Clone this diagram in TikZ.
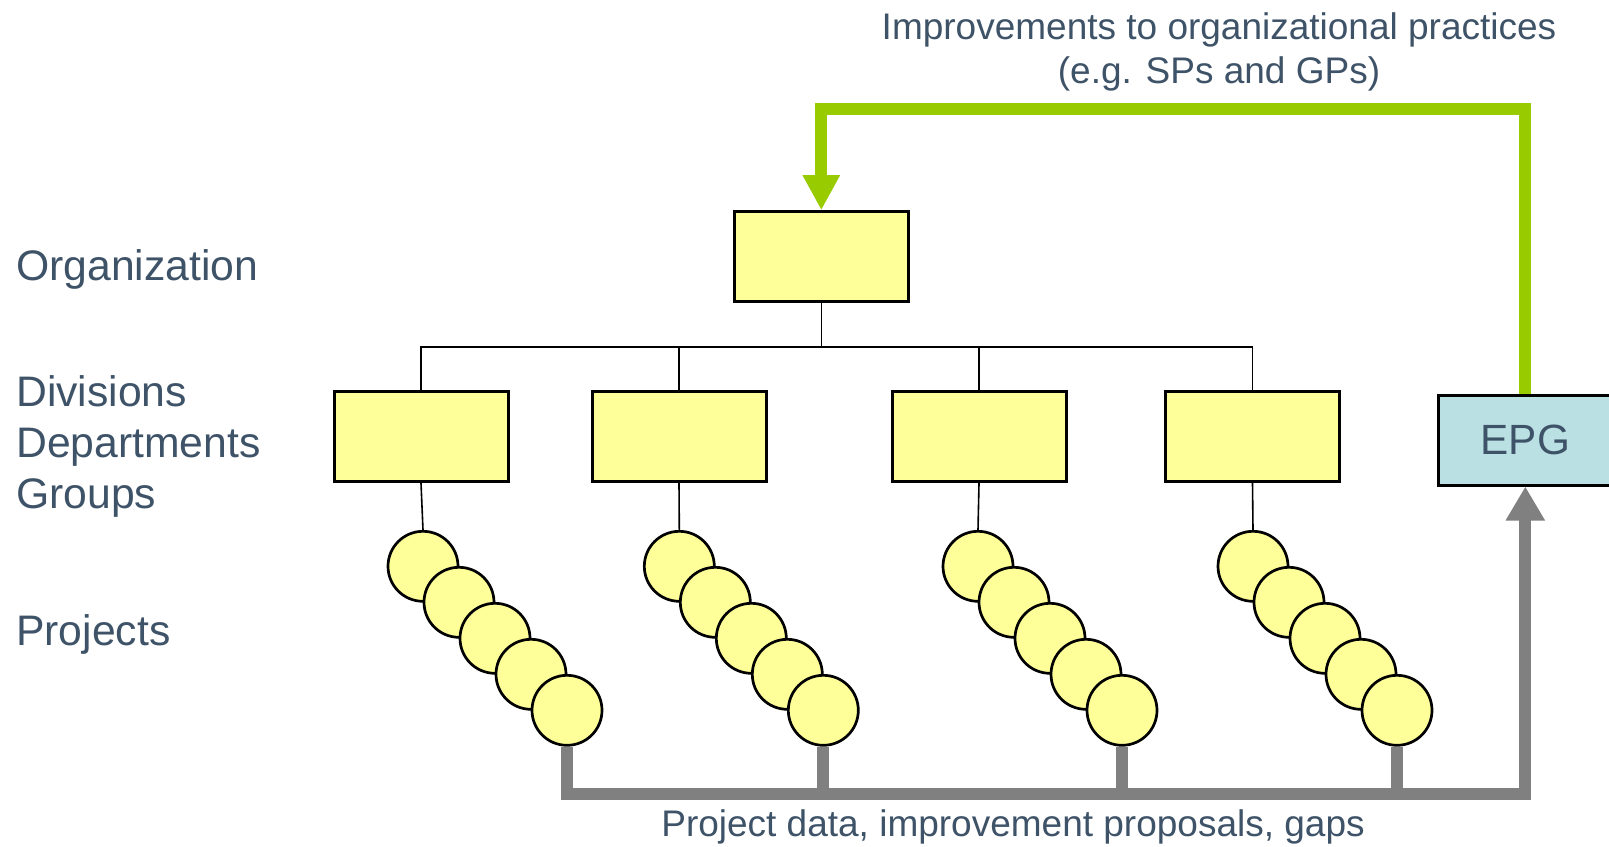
\documentclass[tikz,border=0pt]{standalone}
\usepackage{fontspec}
\setmainfont{Liberation Sans}
\usetikzlibrary{arrows.meta}
\definecolor{txt}{RGB}{62,83,104}
\definecolor{boxyellow}{RGB}{255,255,153}
\definecolor{epgblue}{RGB}{186,224,227}
\definecolor{flowgreen}{RGB}{153,204,0}
\definecolor{flowgray}{RGB}{128,128,128}

\begin{document}
\begin{tikzpicture}[x=1pt,y=-1pt,
  unitbox/.style={draw=black, line width=3pt, fill=boxyellow,
    minimum width=174pt, minimum height=90pt, inner sep=0pt},
  epgbox/.style={unitbox, fill=epgblue, text=txt,
    font=\fontsize{42.3}{50}\selectfont},
  proj/.style={circle, draw=black, line width=2.7pt, fill=boxyellow,
    minimum size=70pt, inner sep=0pt},
  tree/.style={line width=1.6pt, draw=black},
  level/.style={anchor=base west, inner sep=0pt, text=txt,
    font=\fontsize{42.7}{50.8}\selectfont},
  note/.style={anchor=base, inner sep=0pt, text=txt,
    font=\fontsize{37}{44.4}\selectfont},
  feedback/.style={line width=12pt, draw=flowgreen, line join=miter,
    -{Triangle[width=35pt,length=35pt]}},
  datafeed/.style={line width=12pt, draw=flowgray, line join=miter},
  datatip/.style={-{Triangle[width=37pt,length=34pt]}},
]
\useasboundingbox (0,0) rectangle (1609,846);

% level labels on the left
\node[level] (lorg)  at (16,280)   {Organization};
\node[level] (ldiv)  at (16,406.7) {Divisions};
\node[level] (ldep)  at (16,457.3) {Departments};
\node[level] (lgrp)  at (16,508.3) {Groups};
\node[level] (lproj) at (16,645.5) {Projects};

% organization and its units
\node[unitbox] (org) at (821.3,256.7) {};
\node[unitbox] (d1) at (421,436.7) {};
\node[unitbox] (d2) at (679,436.7) {};
\node[unitbox] (d3) at (979,436.7) {};
\node[unitbox] (d4) at (1252.5,436.7) {};
\node[epgbox] (epg) at (1525.3,440) {EPG};

% hierarchy lines
\coordinate (bus) at (821.3,346.7);
\draw[tree] (org.south) -- (bus);
\foreach \d in {d1,d2,d3,d4} \draw[tree] (\d.north) |- (bus);

% project chains below each unit
\foreach \g/\x in {1/423,2/679.3,3/978,4/1253} {
  \foreach \k in {1,...,5} {
    \node[proj] (p\g\k) at ({\x+36*(\k-1)},{566.3+36*(\k-1)}) {};
  }
  \draw[tree] (d\g.south) -- (p\g1.north);
}

% data flowing from projects to the EPG
\coordinate (base) at (1525.3,794);
\draw[datafeed, datatip] (p15.south) |- (base) -- (epg.south);
\foreach \g in {2,3,4} \draw[datafeed] (p\g5.south) -- (p\g5.south |- base);

% improvements flowing back to the organization
\coordinate (top) at (821.3,109.3);
\draw[feedback] (epg.north) |- (top) -- (org.north);

% flow labels
\node[note] (imp1) at (1219,39.3) {Improvements to organizational practices};
\node[note] (imp2) at (1219,83.7) {(e.g. SPs and GPs)};
\node[note] (data) at (1013,836) {Project data, improvement proposals, gaps};
\end{tikzpicture}
\end{document}
